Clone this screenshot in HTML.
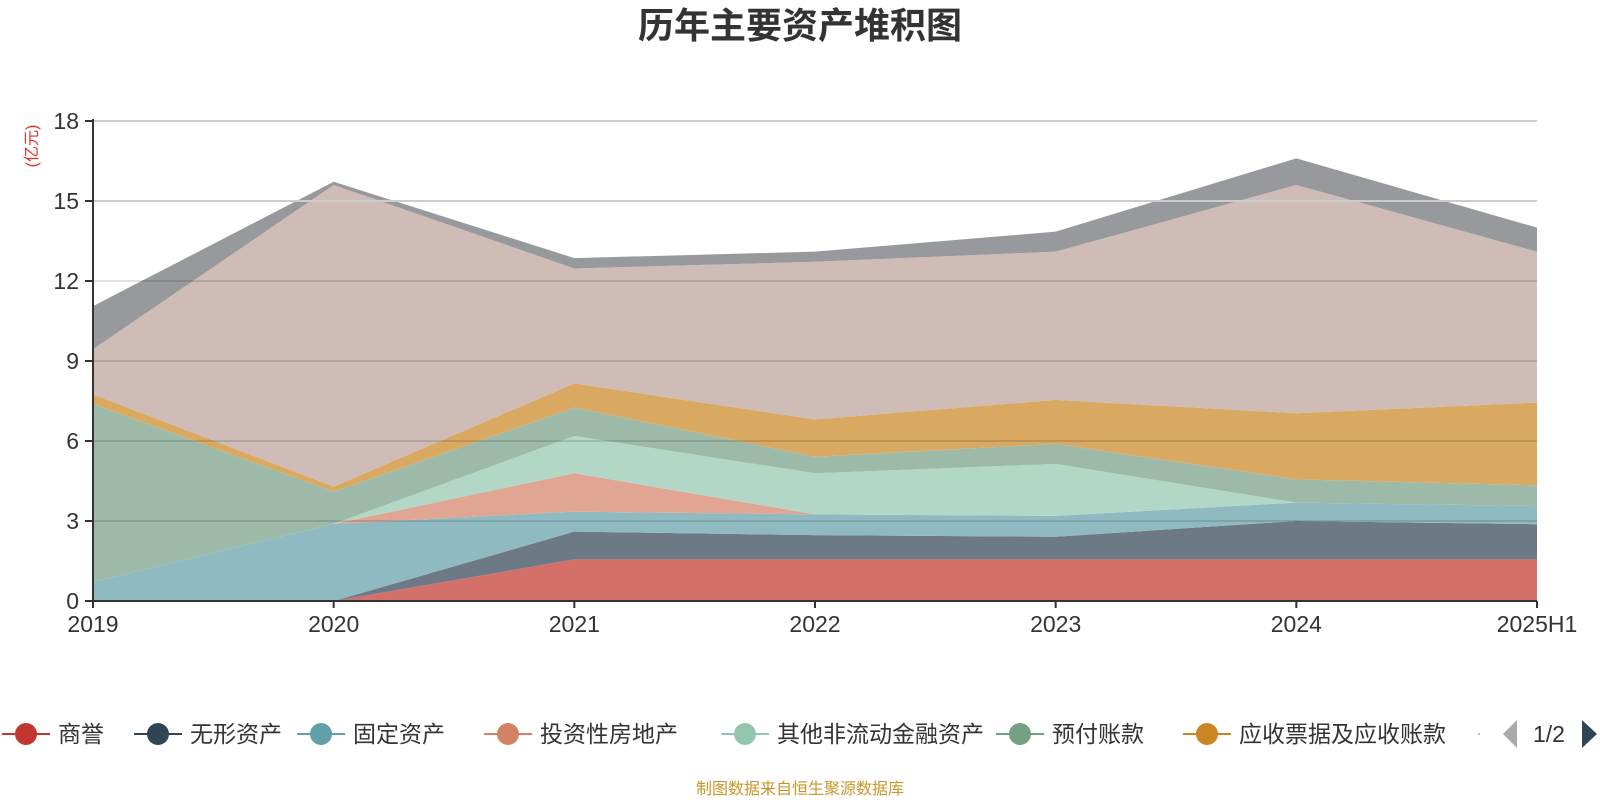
<!DOCTYPE html>
<html><head><meta charset="utf-8"><style>
html,body{margin:0;padding:0;background:#fff;}
svg{display:block;font-family:"Liberation Sans","Noto Sans CJK SC",sans-serif;}
</style></head><body>
<svg id="chart" width="1600" height="800">
<text x="800" y="38" text-anchor="middle" font-size="36" font-weight="bold" fill="#333">历年主要资产堆积图</text>
<text transform="translate(37,146) rotate(-90)" text-anchor="middle" font-size="16" fill="#e0302a">(亿元)</text>
<g id="areas"></g><g id="grid"></g><g id="axes"></g><g id="legend"></g>
<text x="800" y="794" text-anchor="middle" font-size="16" fill="#c8962a">制图数据来自恒生聚源数据库</text>
</svg>
<script>
const categories=["2019","2020","2021","2022","2023","2024","2025H1"];
const goodwill=[0,0,1.56,1.56,1.56,1.56,1.56];
const intangible=[0,0,1.04,0.91,0.85,1.44,1.32];
const fixedAssets=[0.72,2.89,0.75,0.78,0.78,0.69,0.68];
const investProperty=[0,0,1.44,0,0,0,0];
const otherFinAssets=[0,0,1.40,1.54,1.95,0,0];
const prepayments=[6.67,1.21,1.06,0.62,0.75,0.87,0.78];
const receivables=[0.36,0.19,0.91,1.40,1.65,2.48,3.10];
const cashFunds=[1.69,11.31,4.31,5.91,5.56,8.56,5.66];
const inventory=[1.62,0.12,0.39,0.38,0.75,1.0,0.9];
const yTicks=[0,3,6,9,12,15,18];
const seriesNames=["商誉","无形资产","固定资产","投资性房地产","其他非流动金融资产","预付账款","应收票据及应收账款","货币资金","存货"];
const seriesKeys=["goodwill","intangible","fixed-assets","invest-property","other-fin-assets","prepayments","receivables","cash-funds","inventory"];
const seriesData=[goodwill,intangible,fixedAssets,investProperty,otherFinAssets,prepayments,receivables,cashFunds,inventory];
const fills=["#d4706a","#6d7a86","#90bac1","#e0a593","#b2d7c6","#9dbaa8","#d9a962","#cfbcb7","#98999d"];
const legendColors=["#c23531","#2f4554","#61a0a8","#d48265","#91c7ae","#749f83","#ca8622"];

const NS="http://www.w3.org/2000/svg";
const X0=93,X1=1537,Y0=601,YT=121,YMAX=18;
const xs=i=>X0+i*(X1-X0)/(categories.length-1);
const ys=v=>Y0-v/YMAX*(Y0-YT);
function mk(tag,attrs,parent){const e=document.createElementNS(NS,tag);for(const k in attrs)e.setAttribute(k,attrs[k]);parent.appendChild(e);return e;}

const areas=document.getElementById('areas');
let base=categories.map(()=>0);
seriesData.forEach((s,si)=>{
  const top=base.map((b,i)=>b+s[i]);
  let d="";
  top.forEach((v,i)=>{d+=(i?"L":"M")+xs(i)+","+ys(v);});
  for(let i=base.length-1;i>=0;i--)d+="L"+xs(i)+","+ys(base[i]);
  const p=mk('path',{d:d+"Z",fill:fills[si]},areas);
  
  
  base=top;
});

const grid=document.getElementById('grid');
const axes=document.getElementById('axes');
yTicks.forEach(t=>{
  if(t>0){const g=mk('line',{x1:X0,x2:X1,y1:ys(t),y2:ys(t),stroke:t===18||t===15?"#ccc":"rgba(0,0,0,0.12)","stroke-width":2},grid);
  
  }
  const tk=mk('line',{x1:X0-8,x2:X0,y1:ys(t),y2:ys(t),stroke:"#333","stroke-width":2},axes);
  
  
  const lb=mk('text',{x:X0-14,y:ys(t)+8,"text-anchor":"end","font-size":23,fill:"#333"},axes);
  lb.textContent=t;
  
  
});
const ya=mk('line',{x1:X0,x2:X0,y1:YT-2,y2:Y0,stroke:"#333","stroke-width":2},axes);


const xa=mk('line',{x1:X0,x2:X1,y1:Y0,y2:Y0,stroke:"#333","stroke-width":2},axes);


categories.forEach((c,i)=>{
  const tk=mk('line',{x1:xs(i),x2:xs(i),y1:Y0,y2:Y0+7,stroke:"#333","stroke-width":2},axes);
  
  
  const lb=mk('text',{x:xs(i),y:Y0+31,"text-anchor":"middle","font-size":23,fill:"#333"},axes);
  lb.textContent=c;
  
  
});

const legend=document.getElementById('legend');
const lx=[26,158,321,508,745,1020,1207];
const LY=734;
legendColors.forEach((col,i)=>{
  const g=mk('g',{},legend);
  
  
  mk('line',{x1:lx[i]-24,x2:lx[i]+24,y1:LY,y2:LY,stroke:col,"stroke-width":2},g);
  mk('circle',{cx:lx[i],cy:LY,r:11,fill:col},g);
  const t=mk('text',{x:lx[i]+32,y:LY+8,"font-size":23,fill:"#333"},g);
  t.textContent=seriesNames[i];
});
const dot=mk('circle',{cx:1479,cy:LY,r:1,fill:"#aaa"},legend);


const pl=mk('path',{d:"M1517,720 L1517,748 L1503,734 Z",fill:"#aaa"},legend);


const pt=mk('text',{x:1549,y:LY+8,"text-anchor":"middle","font-size":23,fill:"#333"},legend);
pt.textContent="1/2";


const pr=mk('path',{d:"M1582,720 L1582,748 L1597,734 Z",fill:"#2f4554"},legend);


</script>
</body></html>
